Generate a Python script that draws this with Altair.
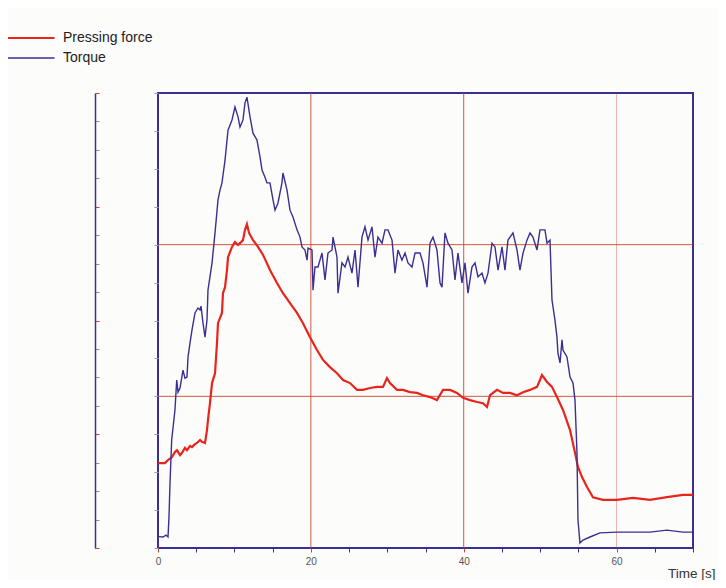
import altair as alt
import pandas as pd

# Torque trace (time [s], value on 0-12 scale)
torque_t = [0.1, 0.65, 1.05, 1.31, 1.44, 1.57, 1.79, 2.22, 2.45, 2.62, 2.88, 3.27, 3.53, 3.79, 3.93,
            4.19, 4.45, 4.84, 5.23, 5.50, 5.63, 5.89, 6.15, 6.41, 6.54, 7.07, 7.46, 7.85, 8.11, 8.37,
            8.77, 9.16, 9.68, 10.07, 10.47, 10.73, 11.12, 11.38, 11.64, 12.04, 12.43, 12.95, 13.35,
            13.61, 14.00, 14.26, 14.65, 15.05, 15.31, 15.70, 16.22, 16.35, 16.88, 17.27, 17.66, 18.19,
            18.58, 18.84, 19.23, 19.50, 19.63, 20.15, 20.28, 20.54, 20.93, 21.46, 21.85, 22.24, 22.77,
            22.90, 23.42, 23.55, 24.07, 24.47, 24.86, 25.38, 25.78, 26.17, 26.69, 27.08, 27.48, 28.00,
            28.39, 28.78, 29.31, 29.70, 30.09, 30.62, 31.01, 31.40, 31.92, 32.32, 32.71, 33.23, 33.63,
            34.28, 34.67, 35.20, 35.59, 35.98, 36.50, 36.90, 37.16, 37.55, 37.94, 38.47, 38.86, 39.25,
            39.77, 40.17, 40.56, 41.08, 41.48, 41.87, 42.39, 42.78, 43.18, 43.70, 44.09, 44.49, 45.01,
            45.40, 45.79, 46.45, 46.97, 47.36, 47.76, 48.28, 48.67, 49.06, 49.59, 49.98, 50.63, 50.90,
            51.29, 51.55, 51.94, 52.20, 52.33, 52.60, 52.86, 52.99, 53.51, 53.91, 54.30, 54.56, 54.82,
            54.95, 55.21, 55.61, 56.52, 57.83, 60.06, 62.15, 64.37, 66.59, 68.69, 69.87]
torque_v = [0.30, 0.29, 0.34, 0.29, 0.82, 1.71, 2.85, 3.64, 4.43, 4.11, 4.22, 4.69, 4.48, 4.51, 5.04,
            5.41, 5.75, 6.20, 6.33, 6.28, 6.38, 5.93, 5.56, 6.01, 6.80, 7.52, 8.31, 9.18, 9.44, 9.63,
            10.23, 11.02, 11.29, 11.63, 11.37, 11.10, 11.29, 11.74, 11.89, 11.37, 10.94, 10.76, 10.31,
            9.97, 9.78, 9.63, 9.63, 9.18, 8.91, 9.10, 9.63, 9.89, 9.44, 8.91, 8.73, 8.39,
            8.20, 7.94, 7.86, 7.59, 7.91, 7.86, 6.80, 7.41, 7.41, 7.78, 7.07, 7.78, 7.86,
            8.20, 7.67, 6.72, 7.52, 7.41, 7.67, 7.25, 7.86, 6.88, 8.20, 8.47, 8.12, 8.47,
            7.67, 8.20, 8.04, 8.39, 8.39, 8.12, 7.25, 7.86, 7.59, 7.78, 7.52, 7.41, 7.78,
            7.78, 7.52, 6.88, 8.04, 8.20, 7.86, 6.99, 6.88, 8.31, 8.04, 7.86, 7.07, 7.78,
            6.99, 7.52, 6.72, 7.41, 7.52, 7.15, 7.25, 6.99, 7.25, 8.04, 7.94, 7.33, 7.94,
            7.33, 8.12, 8.31, 7.86, 7.33, 7.78, 8.12, 8.31, 8.20, 7.86, 8.39, 8.39, 8.04,
            8.12, 6.54, 6.01, 5.56, 5.14, 4.88, 5.49, 5.22, 5.04, 4.51, 4.35, 3.90, 2.51,
            0.74, 0.13, 0.21, 0.29, 0.40, 0.42, 0.42, 0.42, 0.47, 0.42, 0.42]

# Pressing force trace (time [s], value on 0-12 scale)
force_t = [0.0, 0.92, 1.31, 1.83, 2.22, 2.49, 2.88, 3.14, 3.53, 3.79, 4.19, 4.45, 4.84, 5.10, 5.50,
           5.76, 6.15, 6.41, 6.54, 6.80, 7.07, 7.46, 7.72, 7.85, 8.37, 8.50, 8.77, 9.03, 9.16, 9.68,
           10.07, 10.47, 10.73, 11.12, 11.38, 11.64, 11.91, 12.43, 13.08, 13.74, 14.65, 15.57, 16.35,
           17.27, 18.19, 18.97, 19.89, 20.80, 21.59, 22.50, 23.42, 24.21, 25.12, 26.04, 26.82, 27.74,
           28.65, 29.44, 29.96, 30.35, 31.27, 32.06, 32.97, 33.89, 34.67, 35.59, 36.50, 37.29, 38.21,
           39.12, 39.91, 40.82, 41.74, 42.52, 43.05, 43.44, 44.36, 45.14, 46.06, 46.97, 47.76, 48.67,
           49.59, 49.98, 50.24, 50.90, 51.55, 52.20, 52.99, 53.91, 54.56, 54.95, 55.48, 56.13, 56.91,
           58.22, 60.06, 62.15, 64.37, 66.59, 68.69, 70.0]
force_v = [2.24, 2.24, 2.32, 2.40, 2.53, 2.58, 2.45, 2.51, 2.64, 2.58, 2.69, 2.66, 2.74, 2.77, 2.85,
           2.80, 2.77, 3.11, 3.38, 3.82, 4.35, 4.61, 5.41, 5.93, 6.20, 6.72, 6.88, 7.33, 7.67, 7.94,
           8.07, 7.99, 8.04, 8.12, 8.39, 8.54, 8.31, 8.12, 7.94, 7.73, 7.33, 6.99, 6.72,
           6.46, 6.20, 5.93, 5.56, 5.22, 4.96, 4.77, 4.61, 4.43, 4.35, 4.17, 4.17, 4.22,
           4.25, 4.25, 4.48, 4.35, 4.17, 4.17, 4.11, 4.09, 4.03, 3.98, 3.90, 4.17, 4.17,
           4.09, 3.96, 3.90, 3.85, 3.82, 3.72, 4.03, 4.17, 4.09, 4.09, 4.03, 4.11, 4.17,
           4.25, 4.43, 4.56, 4.38, 4.25, 3.98, 3.64, 3.11, 2.51, 2.14, 1.87, 1.61, 1.34,
           1.27, 1.27, 1.32, 1.27, 1.34, 1.40, 1.40]

series_names = ["Pressing force", "Torque"]
x_ticks = list(range(0, 75, 5))
y_ticks = list(range(0, 13))
outer_ticks = list(range(0, 17))
grid_x = [20, 40, 60]
grid_y = [4, 8]

NAVY = "#3a2f92"
RED = "#e8251c"
GRID = "#c9472f"

lines_df = pd.concat([
    pd.DataFrame({"t": force_t, "v": force_v, "series": series_names[0]}),
    pd.DataFrame({"t": torque_t, "v": torque_v, "series": series_names[1]}),
])

xscale = alt.Scale(domain=[0, 70], nice=False, zero=False)
yscale = alt.Scale(domain=[0, 12], nice=False, zero=False)

x_axis = alt.Axis(
    values=x_ticks,
    labelExpr="datum.value % 20 === 0 && datum.value < 70 ? datum.label : ''",
    grid=False, domain=False, labelFlush=False,
    tickColor={"condition": {"test": "datum.value % 20 === 0", "value": GRID}, "value": NAVY},
    tickSize=4, tickWidth=1,
    labelFont="Liberation Sans", labelFontSize=10, labelColor="#555555", labelPadding=4,
    title="Time [s]", titleX=557, titleY=18, titleAlign="right", titleAnchor="end",
    titleBaseline="top",
    titleFont="Liberation Sans", titleFontSize=13.5, titleFontWeight="normal", titleColor="#333333",
)
y_axis = alt.Axis(values=y_ticks, labels=False, grid=False, domain=False,
                  tickColor="#9a98c8", tickSize=4, title=None)

vgrid = alt.Chart(pd.DataFrame({"g": grid_x})).mark_rule(color=GRID, strokeWidth=1).encode(
    x=alt.X("g:Q", scale=xscale, axis=x_axis),
    opacity=alt.condition(alt.datum.g == 60, alt.value(0.4), alt.value(0.9)),
)
hgrid = alt.Chart(pd.DataFrame({"g": grid_y})).mark_rule(color=GRID, strokeWidth=1, opacity=0.9).encode(
    y=alt.Y("g:Q", scale=yscale, axis=y_axis),
)

lines = alt.Chart(lines_df).mark_line(clip=True).encode(
    x=alt.X("t:Q", scale=xscale, axis=x_axis),
    y=alt.Y("v:Q", scale=yscale, axis=y_axis),
    color=alt.Color("series:N",
                    scale=alt.Scale(domain=series_names, range=[RED, NAVY]),
                    legend=alt.Legend(orient="none", legendX=-134, legendY=-62, title=None,
                                      symbolType="M-4.7,0H4.7", symbolSize=100,
                                      symbolStrokeWidth=1.6,
                                      labelFont="Liberation Sans", labelFontSize=14,
                                      labelColor="#222222", labelOffset=25, rowPadding=6,
                                      padding=0)),
    strokeWidth=alt.StrokeWidth("series:N", scale=alt.Scale(domain=series_names, range=[2.2, 1.4]),
                                legend=None),
    order=alt.Order("t:Q"),
)

outer = alt.Chart(pd.DataFrame({"k": outer_ticks})).mark_tick(opacity=0).encode(
    y=alt.Y("k:Q", scale=alt.Scale(domain=[0, 16], nice=False, zero=False),
            axis=alt.Axis(orient="right", offset=-598, values=outer_ticks, labels=False,
                          grid=False, domain=True, domainColor=NAVY, domainWidth=1.5,
                          tickColor={"condition": {"test": "datum.value % 4 === 0", "value": GRID},
                                     "value": "#8c8ac0"},
                          tickSize=4, title=None)),
)

main = alt.layer(vgrid, hgrid, lines)
chart = alt.layer(main, outer).resolve_scale(y="independent").properties(
    width=535, height=455,
    autosize=alt.AutoSizeParams(type="none"),
    padding={"left": 150, "top": 85, "right": 25, "bottom": 32},
    background="#fcfcfa",
).configure_view(stroke=NAVY, strokeWidth=2)

chart.save("out.html", embed_options={"renderer": "svg", "actions": False})
